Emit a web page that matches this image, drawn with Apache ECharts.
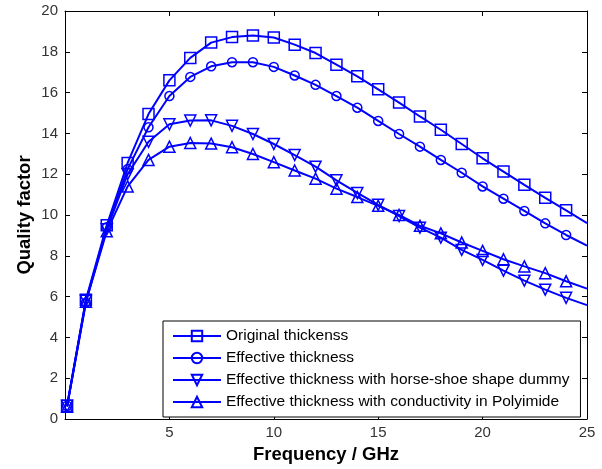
<!DOCTYPE html>
<html>
<head>
<meta charset="utf-8">
<script src="https://cdn.jsdelivr.net/npm/echarts@6/dist/echarts.min.js"></script>
<style>
    html, body { margin: 0; padding: 0; background: #fff; }
    #chart { width: 602px; height: 469px; }
</style>
</head>
<body>
<div id="chart"></div>
<script>
    // frequency points (GHz)
    var freq = [0.1, 1, 2, 3, 4, 5, 6, 7, 8, 9, 10, 11, 12, 13, 14, 15, 16, 17, 18, 19, 20, 21, 22, 23, 24, 25];

    var originalThickness = [0.65, 5.85, 9.5, 12.55, 14.95, 16.6, 17.7, 18.45, 18.72, 18.8, 18.7, 18.35, 17.94, 17.37, 16.8, 16.16, 15.51, 14.83, 14.18, 13.48, 12.78, 12.13, 11.48, 10.84, 10.23, 9.6];
    var effectiveThickness = [0.65, 5.7, 9.4, 12.25, 14.3, 15.83, 16.77, 17.29, 17.49, 17.49, 17.26, 16.84, 16.38, 15.83, 15.26, 14.61, 13.97, 13.35, 12.7, 12.07, 11.4, 10.8, 10.2, 9.59, 9.02, 8.5];
    var horseShoe = [0.65, 5.8, 9.3, 12.0, 13.59, 14.45, 14.63, 14.64, 14.37, 13.97, 13.48, 12.94, 12.37, 11.7, 11.08, 10.5, 9.95, 9.38, 8.89, 8.29, 7.8, 7.27, 6.78, 6.34, 5.94, 5.58];
    var polyimide = [0.6, 5.75, 9.2, 11.4, 12.7, 13.35, 13.53, 13.5, 13.32, 12.99, 12.59, 12.18, 11.78, 11.29, 10.88, 10.45, 10.0, 9.47, 9.1, 8.65, 8.24, 7.83, 7.48, 7.15, 6.75, 6.39];

    var seriesNames = [
        "Original thickenss",
        "Effective thickness",
        "Effective thickness with horse-shoe shape dummy",
        "Effective thickness with conductivity in Polyimide"
    ];

    var blue = "#0000ff";
    var font = "Liberation Sans, Arial, sans-serif";

    // pair x with y, last point (axis edge) has no marker
    function toPoints(values) {
        var pts = [];
        for (var i = 0; i < values.length; i++) {
            if (freq[i] === 25) {
                pts.push({value: [freq[i], values[i]], symbol: "none"});
            } else {
                pts.push([freq[i], values[i]]);
            }
        }
        return pts;
    }

    function makeSeries(name, values, symbol, size, rotate) {
        return {
            name: name,
            type: "line",
            data: toPoints(values),
            symbol: symbol,
            symbolSize: size,
            symbolRotate: rotate || 0,
            showAllSymbol: true,
            color: blue,
            lineStyle: {color: blue, width: 2},
            itemStyle: {color: "rgba(0,0,0,0)", borderColor: blue, borderWidth: 1.5},
            emphasis: {disabled: true},
            animation: false
        };
    }

    // box axes, matlab style ticks pointing into the plot
    function boxAxis(extra) {
        var ax = {
            type: "value",
            nameMoveOverlap: false,
            axisLine: {show: true, onZero: false, lineStyle: {color: "#000", width: 1}},
            axisTick: {show: true, inside: true, length: 5, lineStyle: {color: "#000", width: 1}},
            splitLine: {show: false}
        };
        for (var k in extra) {
            ax[k] = extra[k];
        }
        return ax;
    }

    var chart = echarts.init(document.getElementById("chart"));

    var option = {
        backgroundColor: "#fff",
        grid: {left: 65, right: 15, top: 11, bottom: 47},
        legend: {
            orient: "vertical",
            left: 163,
            top: 321,
            padding: [7, 11, 7, 9],
            itemGap: 6,
            itemWidth: 48,
            itemHeight: 13,
            backgroundColor: "#fff",
            borderColor: "#000",
            borderWidth: 1,
            borderRadius: 0,
            textStyle: {color: "#000", fontSize: 15.5, fontFamily: font},
            data: seriesNames
        },
        xAxis: [
            boxAxis({
                min: 0, max: 25, interval: 5,
                name: "Frequency / GHz",
                nameLocation: "middle",
                nameGap: 26,
                nameTextStyle: {color: "#000", fontSize: 18.5, fontWeight: "bold", fontFamily: font},
                axisLabel: {color: "#333", fontSize: 15, fontFamily: font, margin: 6, showMinLabel: false}
            }),
            boxAxis({
                position: "top", min: 0, max: 25, interval: 5,
                axisLabel: {show: false}
            })
        ],
        yAxis: [
            boxAxis({
                min: 0, max: 20, interval: 2,
                name: "Quality factor",
                nameLocation: "middle",
                nameGap: 31,
                nameTextStyle: {color: "#000", fontSize: 18.5, fontWeight: "bold", fontFamily: font},
                axisLabel: {color: "#333", fontSize: 15, fontFamily: font, margin: 7}
            }),
            boxAxis({
                position: "right", min: 0, max: 20, interval: 2,
                axisLabel: {show: false}
            })
        ],
        series: [
            makeSeries(seriesNames[0], originalThickness, "rect", 11),
            makeSeries(seriesNames[1], effectiveThickness, "circle", 9),
            makeSeries(seriesNames[2], horseShoe, "triangle", 11, 180),
            makeSeries(seriesNames[3], polyimide, "triangle", 11)
        ]
    };

    chart.setOption(option);
</script>
</body>
</html>
